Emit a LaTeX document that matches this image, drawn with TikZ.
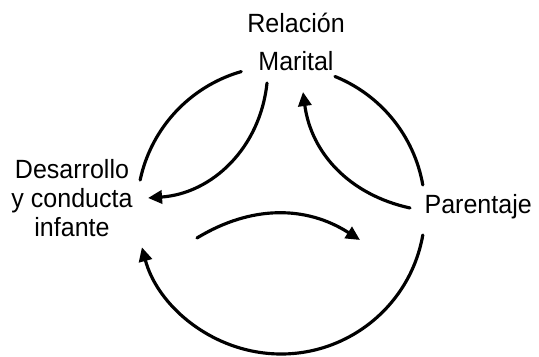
\documentclass[tikz,border=0pt]{standalone}
\usepackage{fontspec}
\newfontfamily\rotulo[FakeStretch=0.95]{Liberation Sans}
\usetikzlibrary{arrows.meta,calc}

\begin{document}
\begin{tikzpicture}[x=0.02cm, y=0.02cm, >={Triangle[length=8pt,width=7.5pt]},
    line width=1.8pt, line cap=round,
    etiqueta/.style={inner sep=0pt, align=center, font=\rotulo\fontsize{15}{16.4}\selectfont}]
    % marco de la figura
    \useasboundingbox (0,0) rectangle (539,357);

    % textos
    \node[etiqueta, anchor=north, font=\rotulo\fontsize{15}{21.5}\selectfont] (marital) at (296,345) {Relación\\Marital};
    \node[etiqueta, anchor=north] (infante) at (72,199) {Desarrollo\\y conducta\\infante};
    \node[etiqueta, anchor=base west] (parentaje) at (423,143) {Parentaje};

    % centro del circulo exterior
    \coordinate (c) at (281,147);

    % extremos de los arcos interiores
    \coordinate (m1) at (267,274);
    \coordinate (d1) at (148,159);
    \coordinate (p1) at (410,149);
    \coordinate (m2) at (303,265);
    \coordinate (i1) at (197,119);
    \coordinate (i2) at (360,117);

    % arcos exteriores
    \draw (c) ++(106:144) arc[start angle=106, end angle=168, radius=144];
    \draw (c) ++(68:144) arc[start angle=68, end angle=10, radius=144];
    \draw[->] (c) ++(-10:144) arc[start angle=-10, end angle=-165, radius=144];

    % arcos interiores
    \draw[->] (m1) to[bend left=40] (d1);
    \draw[->] (p1) to[bend left=35] (m2);

    % flecha central
    \draw[->] (i1) to[bend left=32] (i2);
\end{tikzpicture}
\end{document}
